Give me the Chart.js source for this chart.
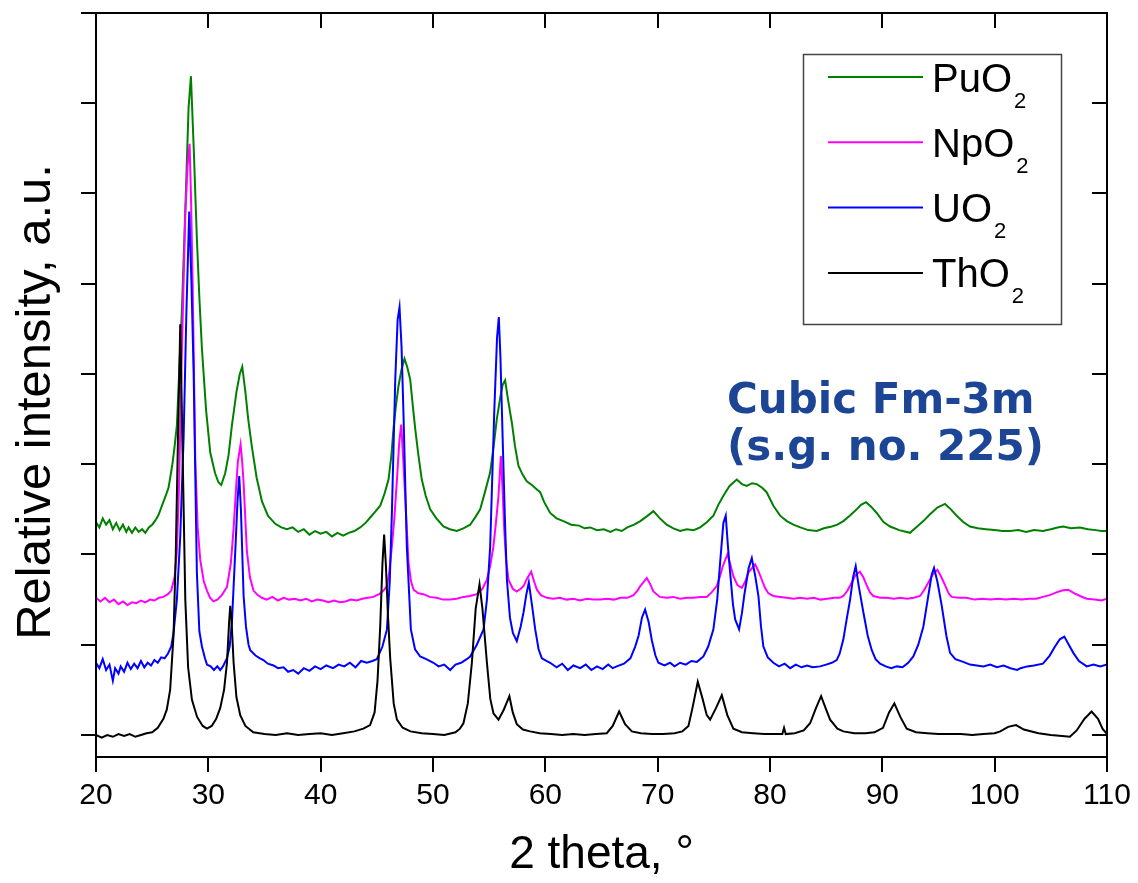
<!DOCTYPE html>
<html>
<head>
<meta charset="utf-8">
<script src="https://cdn.jsdelivr.net/npm/chart.js@4.4.1/dist/chart.umd.min.js"></script>
<style>
  html, body { margin: 0; padding: 0; background: #fff; }
  #wrap { width: 1138px; height: 883px; }
</style>
</head>
<body>
<div id="wrap"><canvas id="c" width="1138" height="883"></canvas></div>
<script>
// ---- data (2theta in degrees, relative intensity offset per pattern) ----
const xTicks = [20, 30, 40, 50, 60, 70, 80, 90, 100, 110];
const yTicks = [0, 1, 2, 3, 4, 5, 6, 7, 8];
const seriesNames = ['ThO2', 'UO2', 'NpO2', 'PuO2'];
const seriesColors = ['#000000', '#0000ff', '#ff00ff', '#008000'];
const noteLines = ['Cubic Fm-3m', '(s.g. no. 225)'];
const yTitle = 'Relative intensity, a.u.';
const xTitle = '2 theta, °';

const thO2 = [[20,0.0],[20.5,-0.03],[21,0.0],[21.5,-0.02],[22,0.01],[22.5,-0.01],[23,0.01],[23.5,-0.02],[24,0.0],[24.5,0.02],[25,0.03],[25.5,0.08],[26,0.18],[26.3,0.28],[26.6,0.5],[26.9,1.1],[27.1,2.0],[27.3,3.3],[27.5,4.55],[27.7,3.2],[27.95,1.5],[28.2,0.75],[28.54,0.39],[29.0,0.2],[29.5,0.1],[29.88,0.07],[30.3,0.1],[30.7,0.18],[31.06,0.3],[31.4,0.5],[31.66,0.8],[31.85,1.25],[31.95,1.43],[32.05,1.3],[32.25,0.8],[32.5,0.42],[32.84,0.22],[33.3,0.1],[34.0,0.03],[35,0.01],[36,0.0],[37,0.02],[38,0.0],[39,0.01],[40,0.02],[41,0.0],[42,0.02],[43,0.04],[43.8,0.07],[44.4,0.11],[44.8,0.25],[45.06,0.6],[45.3,1.2],[45.5,1.9],[45.65,2.22],[45.8,1.9],[46.0,1.3],[46.19,0.85],[46.5,0.35],[46.79,0.17],[47.3,0.08],[48,0.04],[49,0.02],[50,0.01],[51,0.0],[52,0.03],[52.4,0.07],[52.71,0.13],[53.1,0.35],[53.46,0.8],[53.8,1.4],[54.14,1.67],[54.4,1.4],[54.8,0.8],[55.1,0.4],[55.38,0.24],[55.83,0.17],[56.3,0.28],[56.8,0.43],[57.1,0.25],[57.46,0.12],[58,0.06],[58.65,0.04],[59.5,0.02],[60.5,0.01],[61.5,0.0],[62.5,0.01],[63.5,0.0],[64.5,0.01],[65.47,0.02],[66.0,0.1],[66.57,0.26],[67.1,0.12],[67.7,0.04],[68.5,0.02],[69.5,0.01],[70.5,0.01],[71.5,0.02],[72.2,0.04],[72.74,0.1],[73.1,0.3],[73.57,0.59],[74.0,0.4],[74.37,0.22],[74.67,0.17],[75.2,0.3],[75.71,0.44],[76.2,0.22],[76.74,0.07],[77.5,0.03],[78.5,0.02],[79.5,0.01],[80.5,0.01],[81.1,0.01],[81.25,0.08],[81.4,0.01],[82.2,0.02],[83.0,0.05],[83.57,0.13],[84.1,0.3],[84.55,0.43],[85.0,0.28],[85.35,0.17],[86.0,0.07],[86.53,0.04],[87.5,0.02],[88.5,0.02],[89.3,0.03],[90.06,0.08],[90.6,0.25],[91.07,0.35],[91.6,0.2],[92.17,0.07],[93,0.03],[94,0.02],[95,0.01],[96,0.01],[97,0.01],[98,0.0],[99,0.01],[100,0.02],[100.5,0.04],[101.2,0.09],[101.9,0.11],[102.6,0.06],[103.9,0.02],[105,0.0],[106,-0.01],[106.7,-0.02],[107.3,0.05],[108.0,0.18],[108.63,0.26],[109.2,0.18],[109.6,0.07],[110,0.01]];

const uO2 = [[20,0.8],[20.3,0.74],[20.6,0.84],[20.9,0.72],[21.2,0.78],[21.5,0.6],[21.7,0.74],[22.0,0.68],[22.2,0.76],[22.5,0.7],[22.8,0.8],[23.1,0.73],[23.4,0.79],[23.7,0.74],[24.0,0.82],[24.3,0.75],[24.6,0.8],[24.9,0.77],[25.2,0.83],[25.5,0.8],[25.8,0.86],[26.1,0.85],[26.4,0.9],[26.7,0.98],[26.9,1.13],[27.2,1.5],[27.5,2.2],[27.8,3.3],[28.05,4.7],[28.3,5.8],[28.5,5.0],[28.69,4.03],[28.85,2.8],[28.98,1.8],[29.2,1.15],[29.43,0.98],[29.7,0.85],[29.88,0.78],[30.2,0.76],[30.5,0.72],[30.8,0.76],[31.06,0.72],[31.3,0.76],[31.66,0.85],[31.9,0.98],[32.1,1.25],[32.4,2.04],[32.6,2.6],[32.75,2.87],[32.9,2.5],[33.14,1.54],[33.35,1.2],[33.58,1.0],[33.73,0.94],[34.2,0.88],[34.6,0.85],[34.9,0.83],[35.3,0.79],[35.8,0.77],[36.2,0.74],[36.7,0.75],[37.1,0.7],[37.56,0.72],[38.0,0.68],[38.5,0.74],[39.0,0.71],[39.5,0.76],[40.0,0.73],[40.5,0.77],[41.1,0.74],[41.6,0.78],[42.1,0.76],[42.6,0.8],[43.1,0.75],[43.6,0.82],[44.1,0.8],[44.6,0.82],[45.0,0.84],[45.5,0.98],[45.9,1.17],[46.15,1.7],[46.34,2.46],[46.64,3.94],[46.85,4.6],[47.02,4.74],[47.2,4.3],[47.37,3.57],[47.67,2.09],[48.03,1.17],[48.4,0.95],[48.86,0.87],[49.4,0.84],[50.04,0.8],[50.5,0.76],[51.0,0.78],[51.53,0.72],[52.0,0.78],[52.5,0.8],[53.0,0.84],[53.31,0.87],[53.9,1.0],[54.5,1.17],[54.8,1.5],[55.09,2.09],[55.45,3.57],[55.7,4.4],[55.86,4.63],[56.0,4.2],[56.22,3.2],[56.4,2.4],[56.58,1.72],[56.85,1.3],[57.11,1.13],[57.46,1.04],[57.8,1.2],[58.06,1.36],[58.3,1.55],[58.53,1.69],[58.8,1.45],[59.1,1.17],[59.4,0.95],[59.69,0.85],[60.1,0.82],[60.43,0.8],[61.0,0.75],[61.5,0.79],[62.0,0.72],[62.5,0.77],[63.1,0.74],[63.6,0.78],[64.1,0.72],[64.6,0.76],[65.1,0.73],[65.6,0.78],[66.0,0.74],[66.36,0.76],[67.0,0.79],[67.57,0.85],[68.0,0.98],[68.3,1.1],[68.6,1.3],[68.88,1.39],[69.2,1.25],[69.48,1.05],[69.8,0.88],[70.07,0.8],[70.6,0.77],[71.1,0.8],[71.5,0.76],[72.0,0.8],[72.5,0.78],[73.0,0.82],[73.5,0.81],[74.07,0.87],[74.5,0.98],[74.96,1.17],[75.3,1.5],[75.56,1.91],[75.85,2.35],[76.06,2.43],[76.25,2.1],[76.45,1.8],[76.7,1.45],[76.9,1.28],[77.25,1.17],[77.5,1.35],[77.7,1.54],[78.1,1.85],[78.38,1.96],[78.7,1.75],[78.97,1.54],[79.2,1.2],[79.41,0.98],[79.8,0.86],[80.3,0.8],[80.8,0.76],[81.3,0.79],[81.8,0.74],[82.3,0.78],[82.8,0.75],[83.3,0.77],[83.8,0.75],[84.46,0.76],[85.0,0.78],[85.5,0.8],[85.94,0.83],[86.2,0.9],[86.53,1.06],[86.85,1.3],[87.13,1.5],[87.4,1.75],[87.63,1.87],[87.9,1.65],[88.31,1.36],[88.7,1.1],[89.06,0.94],[89.4,0.84],[89.8,0.79],[90.3,0.76],[90.8,0.74],[91.28,0.76],[91.8,0.75],[92.3,0.8],[92.76,0.87],[93.2,1.0],[93.65,1.2],[94.1,1.55],[94.4,1.78],[94.6,1.85],[94.9,1.7],[95.29,1.43],[95.7,1.1],[96.03,0.91],[96.5,0.84],[97.2,0.81],[97.8,0.78],[98.4,0.77],[99.0,0.76],[99.6,0.78],[100.2,0.75],[100.8,0.77],[101.4,0.74],[102.0,0.72],[102.3,0.74],[102.9,0.76],[103.5,0.77],[104.3,0.79],[104.9,0.88],[105.37,0.98],[105.8,1.06],[106.2,1.09],[106.6,1.0],[107.0,0.91],[107.5,0.82],[108.2,0.76],[108.8,0.78],[109.4,0.76],[110,0.78]];

const npO2 = [[20,1.52],[20.4,1.48],[20.8,1.52],[21.2,1.47],[21.6,1.5],[22.0,1.45],[22.4,1.48],[22.8,1.44],[23.2,1.47],[23.6,1.46],[24.0,1.49],[24.4,1.47],[24.8,1.5],[25.2,1.49],[25.6,1.52],[26.0,1.53],[26.4,1.56],[26.7,1.6],[27.0,1.75],[27.2,2.04],[27.4,2.8],[27.6,4.03],[27.95,5.77],[28.15,6.3],[28.33,6.55],[28.45,6.0],[28.6,5.02],[28.84,3.03],[29.05,2.3],[29.28,1.94],[29.6,1.7],[29.88,1.6],[30.15,1.52],[30.45,1.48],[30.8,1.5],[31.2,1.55],[31.66,1.64],[32.0,1.9],[32.25,2.29],[32.45,2.7],[32.63,3.03],[32.87,3.22],[33.0,3.05],[33.14,2.79],[33.43,2.04],[33.7,1.75],[34.02,1.6],[34.4,1.55],[34.77,1.52],[35.2,1.5],[35.7,1.53],[36.2,1.49],[36.7,1.52],[37.2,1.5],[37.7,1.51],[38.2,1.49],[38.7,1.51],[39.2,1.48],[39.7,1.5],[40.2,1.49],[40.7,1.47],[41.2,1.49],[41.7,1.47],[42.2,1.48],[42.7,1.5],[43.2,1.49],[43.7,1.51],[44.2,1.52],[44.7,1.53],[45.2,1.56],[45.6,1.6],[45.9,1.65],[46.1,1.8],[46.34,2.09],[46.56,2.4],[46.79,2.83],[47.0,3.25],[47.17,3.44],[47.35,3.05],[47.52,2.65],[47.82,1.91],[48.05,1.7],[48.27,1.61],[48.7,1.57],[49.15,1.56],[49.7,1.53],[50.3,1.52],[50.9,1.5],[51.53,1.5],[52.1,1.51],[52.7,1.53],[53.3,1.54],[53.9,1.56],[54.4,1.62],[54.8,1.72],[55.1,1.88],[55.38,2.09],[55.6,2.35],[55.83,2.65],[56.04,3.09],[56.2,2.7],[56.34,2.28],[56.5,1.95],[56.72,1.72],[57.1,1.62],[57.46,1.59],[57.8,1.62],[58.06,1.65],[58.4,1.74],[58.74,1.81],[59.0,1.7],[59.25,1.61],[59.6,1.55],[60.13,1.52],[60.7,1.51],[61.3,1.52],[61.9,1.5],[62.5,1.51],[63.1,1.49],[63.7,1.51],[64.3,1.5],[64.9,1.5],[65.5,1.51],[66.1,1.5],[66.7,1.52],[67.3,1.52],[67.85,1.55],[68.2,1.6],[68.46,1.65],[69.03,1.74],[69.3,1.68],[69.62,1.59],[70.2,1.53],[70.8,1.52],[71.4,1.53],[72.0,1.51],[72.6,1.52],[73.2,1.52],[73.8,1.53],[74.37,1.53],[74.8,1.58],[75.26,1.65],[75.55,1.76],[75.8,1.87],[76.2,2.0],[76.45,1.9],[76.74,1.76],[77.1,1.66],[77.49,1.63],[77.8,1.7],[78.07,1.8],[78.68,1.89],[78.95,1.82],[79.27,1.72],[79.55,1.63],[79.86,1.57],[80.3,1.54],[80.9,1.53],[81.5,1.52],[82.1,1.51],[82.7,1.52],[83.3,1.51],[83.9,1.52],[84.5,1.5],[85.1,1.51],[85.7,1.52],[86.2,1.52],[86.53,1.54],[86.9,1.6],[87.28,1.69],[87.6,1.77],[88.0,1.81],[88.3,1.75],[88.6,1.66],[88.9,1.58],[89.2,1.54],[89.8,1.52],[90.4,1.52],[91.0,1.51],[91.6,1.52],[92.2,1.51],[92.8,1.52],[93.35,1.54],[93.7,1.6],[94.1,1.69],[94.5,1.78],[94.9,1.83],[95.25,1.75],[95.58,1.66],[95.9,1.57],[96.17,1.53],[96.8,1.52],[97.5,1.52],[98.2,1.5],[98.9,1.51],[99.6,1.5],[100.3,1.51],[101.0,1.5],[101.7,1.51],[102.4,1.5],[103.1,1.51],[103.7,1.51],[104.3,1.53],[104.9,1.55],[105.5,1.58],[106.0,1.6],[106.55,1.61],[107.1,1.57],[107.6,1.54],[108.2,1.51],[108.9,1.5],[109.5,1.49],[110,1.51]];

const puO2 = [[20,2.36],[20.3,2.3],[20.6,2.4],[20.9,2.33],[21.2,2.38],[21.5,2.28],[21.8,2.35],[22.1,2.27],[22.4,2.33],[22.7,2.25],[22.9,2.3],[23.2,2.24],[23.5,2.3],[23.8,2.25],[24.1,2.28],[24.39,2.24],[24.7,2.3],[25.0,2.33],[25.3,2.38],[25.57,2.44],[25.9,2.55],[26.2,2.65],[26.46,2.74],[26.8,3.0],[27.0,3.2],[27.2,3.43],[27.4,4.0],[27.65,4.72],[28.0,6.01],[28.24,6.95],[28.45,7.3],[28.7,6.5],[28.98,5.5],[29.2,4.85],[29.43,4.28],[29.8,3.6],[30.17,3.13],[30.6,2.9],[30.9,2.8],[31.15,2.77],[31.5,2.9],[31.8,3.1],[32.1,3.43],[32.5,3.8],[32.8,4.0],[33.02,4.08],[33.3,3.8],[33.55,3.5],[33.88,3.19],[34.3,2.85],[34.77,2.59],[35.3,2.43],[35.96,2.34],[36.5,2.3],[37.0,2.28],[37.5,2.3],[38.0,2.25],[38.5,2.28],[39.0,2.22],[39.5,2.26],[40.0,2.23],[40.5,2.25],[41.0,2.2],[41.5,2.24],[42.0,2.21],[42.5,2.24],[43.0,2.26],[43.52,2.3],[44.0,2.35],[44.41,2.41],[44.9,2.48],[45.3,2.54],[45.7,2.68],[46.04,2.83],[46.3,3.1],[46.48,3.39],[46.7,3.65],[46.93,3.87],[47.2,4.05],[47.46,4.17],[47.7,4.08],[47.97,3.94],[48.2,3.65],[48.42,3.39],[48.7,3.1],[49.0,2.83],[49.35,2.65],[49.75,2.5],[50.3,2.4],[50.93,2.31],[51.5,2.28],[52.12,2.26],[52.7,2.29],[53.31,2.33],[53.8,2.42],[54.2,2.5],[54.6,2.68],[55.09,2.91],[55.4,3.2],[55.68,3.5],[56.0,3.75],[56.2,3.88],[56.42,3.93],[56.7,3.7],[57.02,3.46],[57.3,3.2],[57.61,2.98],[58.0,2.88],[58.35,2.81],[58.8,2.77],[59.25,2.72],[59.54,2.69],[59.9,2.58],[60.43,2.46],[61.0,2.4],[61.61,2.37],[62.3,2.33],[63.0,2.32],[63.5,2.29],[64.0,2.3],[64.6,2.27],[65.2,2.28],[65.8,2.25],[66.3,2.28],[66.8,2.26],[67.3,2.3],[67.9,2.33],[68.46,2.37],[69.0,2.42],[69.62,2.48],[70.2,2.4],[70.8,2.33],[71.4,2.29],[72.0,2.26],[72.6,2.28],[73.2,2.27],[73.78,2.3],[74.4,2.36],[74.96,2.43],[75.4,2.55],[75.85,2.65],[76.4,2.76],[77.04,2.83],[77.5,2.78],[77.93,2.76],[78.4,2.79],[78.82,2.78],[79.3,2.74],[79.7,2.69],[80.3,2.54],[80.9,2.43],[81.5,2.37],[82.08,2.33],[82.7,2.3],[83.4,2.27],[84.16,2.26],[84.8,2.29],[85.5,2.31],[86.0,2.33],[86.53,2.37],[87.1,2.43],[87.72,2.5],[88.1,2.55],[88.55,2.58],[89.0,2.53],[89.5,2.46],[90.1,2.36],[90.69,2.31],[91.5,2.27],[92.46,2.24],[93.0,2.3],[93.65,2.37],[94.2,2.44],[94.9,2.52],[95.58,2.56],[96.1,2.5],[96.62,2.43],[97.2,2.36],[97.8,2.31],[98.5,2.29],[99.2,2.28],[100.0,2.27],[100.7,2.26],[101.37,2.26],[102.1,2.27],[102.8,2.25],[103.5,2.27],[104.3,2.26],[105.0,2.28],[105.6,2.3],[106.1,2.31],[106.8,2.29],[107.6,2.3],[108.3,2.28],[109.0,2.27],[109.5,2.26],[110,2.26]];

const seriesData = [thO2, uO2, npO2, puO2];

// ---- plugins ----
const SANS = '"Liberation Sans", Arial, sans-serif';

const framePlugin = {
  id: 'frame',
  afterDatasetsDraw(chart) {
    const { ctx, chartArea: a, scales } = chart;
    const x = scales.x, y = scales.y;
    ctx.save();
    ctx.strokeStyle = '#000';
    ctx.lineWidth = 2;
    ctx.strokeRect(a.left, a.top, a.right - a.left, a.bottom - a.top);
    ctx.beginPath();
    x.ticks.forEach(t => {
      const px = Math.round(x.getPixelForValue(t.value));
      ctx.moveTo(px, a.top); ctx.lineTo(px, a.top + 15);
    });
    y.ticks.forEach(t => {
      const py = Math.round(y.getPixelForValue(t.value));
      ctx.moveTo(a.right, py); ctx.lineTo(a.right - 15, py);
    });
    ctx.stroke();
    ctx.restore();
  }
};

const yTitlePlugin = {
  id: 'yTitle',
  afterDraw(chart) {
    const { ctx } = chart;
    ctx.save();
    ctx.translate(36, 402);
    ctx.rotate(-Math.PI / 2);
    ctx.fillStyle = '#000';
    ctx.font = '49px ' + SANS;
    ctx.textAlign = 'center';
    ctx.textBaseline = 'middle';
    ctx.fillText(yTitle, 0, 0);
    ctx.restore();
  }
};

const legendPlugin = {
  id: 'subLegend',
  afterDraw(chart) {
    const { ctx } = chart;
    ctx.save();
    ctx.strokeStyle = '#444';
    ctx.lineWidth = 1.5;
    ctx.strokeRect(803.5, 54.5, 258, 270);
    const order = [3, 2, 1, 0];
    order.forEach((di, row) => {
      const ds = chart.data.datasets[di];
      const ly = 77 + row * 65.3;
      ctx.strokeStyle = ds.borderColor;
      ctx.lineWidth = 2;
      ctx.beginPath();
      ctx.moveTo(828, ly); ctx.lineTo(923, ly);
      ctx.stroke();
      const m = ds.label.match(/^(.*?)(\d+)$/);
      const main = m ? m[1] : ds.label, sub = m ? m[2] : '';
      ctx.fillStyle = '#000';
      ctx.textBaseline = 'alphabetic';
      ctx.textAlign = 'left';
      ctx.font = '40px ' + SANS;
      const base = ly + 14.5;
      ctx.fillText(main, 932, base);
      const w = ctx.measureText(main).width;
      ctx.font = '22px ' + SANS;
      ctx.fillText(sub, 932 + w + 2, base + 16);
    });
    ctx.restore();
  }
};

const notePlugin = {
  id: 'note',
  afterDraw(chart) {
    const { ctx } = chart;
    ctx.save();
    ctx.fillStyle = '#1c4596';
    ctx.font = 'bold 42px "DejaVu Sans", Verdana, sans-serif';
    ctx.textBaseline = 'alphabetic';
    ctx.textAlign = 'left';
    ctx.fillText(noteLines[0], 727, 413);
    ctx.fillText(noteLines[1], 727, 460);
    ctx.restore();
  }
};

// ---- chart ----
new Chart(document.getElementById('c'), {
  type: 'line',
  data: {
    datasets: seriesData.map((s, i) => ({
      label: seriesNames[i],
      data: s.map(p => ({ x: p[0], y: p[1] })),
      borderColor: seriesColors[i],
      backgroundColor: seriesColors[i],
      borderWidth: 2,
      pointRadius: 0,
      tension: 0,
      fill: false
    }))
  },
  options: {
    responsive: false,
    devicePixelRatio: 1,
    animation: false,
    layout: { padding: { top: 13, right: 31, left: 0, bottom: 0 } },
    plugins: { legend: { display: false }, tooltip: { enabled: false } },
    scales: {
      x: {
        type: 'linear',
        position: 'bottom',
        min: 20, max: 110,
        afterBuildTicks: s => { s.ticks = xTicks.map(v => ({ value: v })); },
        afterFit: s => { s.height = 126; },
        ticks: { color: '#000', font: { family: SANS, size: 30 }, padding: 6, maxRotation: 0 },
        grid: { display: true, drawOnChartArea: false, drawTicks: true, tickLength: 15, color: '#000', lineWidth: 2 },
        border: { display: true, color: '#000', width: 2 },
        title: { display: true, text: xTitle, color: '#000', font: { family: SANS, size: 46, lineHeight: 1.2 }, padding: { top: 0, bottom: 0 } }
      },
      y: {
        type: 'linear',
        position: 'left',
        min: -0.244, max: 8,
        afterBuildTicks: s => { s.ticks = yTicks.map(v => ({ value: v })); },
        afterFit: s => { s.width = 96; },
        ticks: { display: false },
        grid: { display: true, drawOnChartArea: false, drawTicks: true, tickLength: 15, color: '#000', lineWidth: 2 },
        border: { display: true, color: '#000', width: 2 },
        title: { display: false }
      }
    }
  },
  plugins: [framePlugin, yTitlePlugin, legendPlugin, notePlugin]
});
</script>
</body>
</html>
